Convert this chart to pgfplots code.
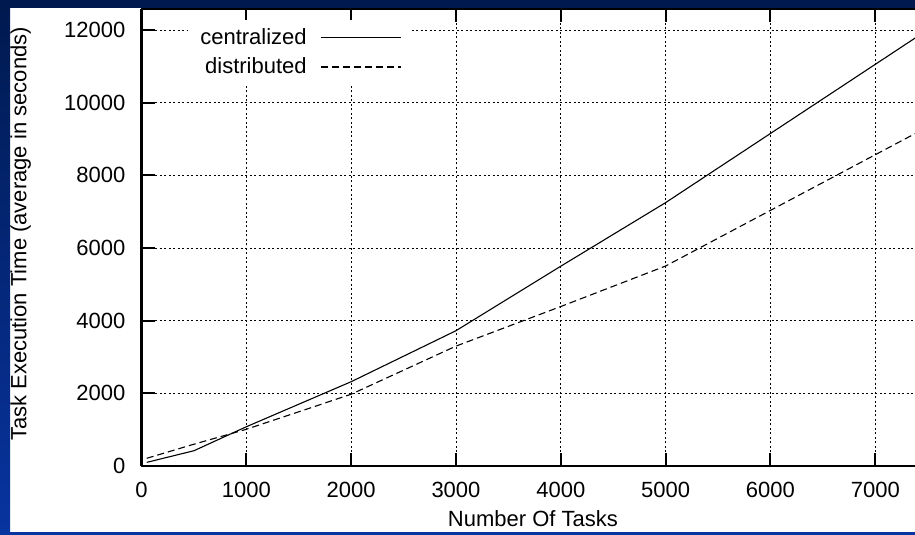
\documentclass[border=0pt]{standalone}
\usepackage{fontspec}
\setmainfont{Liberation Sans}
\usepackage{pgfplots}
\pgfplotsset{compat=1.18}
\definecolor{navy}{RGB}{0,26,80}
\definecolor{slideblue}{RGB}{8,52,160}
\begin{document}
\fontsize{22}{26}\selectfont
\begin{tikzpicture}
\useasboundingbox (0pt,0pt) rectangle (915pt,535pt);
\fill[white] (0pt,0pt) rectangle (915pt,535pt);
\begin{axis}[
 at={(141.5pt,69pt)}, anchor=south west,
 scale only axis, width=773.5pt, height=457pt,
 xmin=0, xmax=7379, ymin=0, ymax=12580,
 axis x line*=box, axis y line*=left,
 axis line style={-, line width=2.2pt, black},
 xtick={0,1000,...,7000}, ytick={0,2000,...,12000},
 scaled y ticks=false, scaled x ticks=false,
 tick align=inside, major tick length=13pt,
 every tick/.style={black, line width=2pt},
 grid=major,
 major grid style={black, line width=0.8pt, dash pattern=on 2pt off 2.5pt},
 /pgf/number format/assume math mode=true,
 /pgf/number format/1000 sep={},
 xticklabel style={anchor=base, yshift=-31pt},
 yticklabel style={anchor=east, inner sep=0pt, xshift=-16pt},
 xlabel={Number Of Tasks},
 ylabel={Task Execution Time (average in seconds)},
 xlabel style={at={(axis description cs:0.506,-0.1313)}, anchor=base},
 ylabel style={at={(axis description cs:-0.1488,0.5077)}, anchor=base},
 legend style={at={(axis description cs:0.3497,0.976)}, anchor=north east,
   draw=none, fill=white, inner xsep=10pt, inner ysep=6pt,
   column sep=12pt, row sep=6pt},
 legend plot pos=right, legend cell align=right,
 legend image code/.code={\draw[#1] (0pt,0pt) -- (80pt,0pt);},
]
\addplot[black, line width=1.1pt] coordinates {
 (50,100) (500,420) (1000,1080) (2000,2320) (3000,3724) (4000,5500) (5000,7250) (8000,12960)};
\addlegendentry{centralized}
\addplot[black, line width=1.1pt, dash pattern=on 7pt off 4pt] coordinates {
 (50,212) (500,600) (1000,1010) (2000,1975) (3000,3300) (4000,4390) (5000,5505) (8000,10100)};
\addlegendentry{distributed}
\end{axis}
\fill[navy] (0pt,527pt) rectangle (915pt,535pt);
\shade[top color=navy, bottom color=slideblue] (0pt,0pt) rectangle (10pt,527pt);
\fill[slideblue] (10pt,0pt) rectangle (915pt,3pt);
\end{tikzpicture}
\end{document}
